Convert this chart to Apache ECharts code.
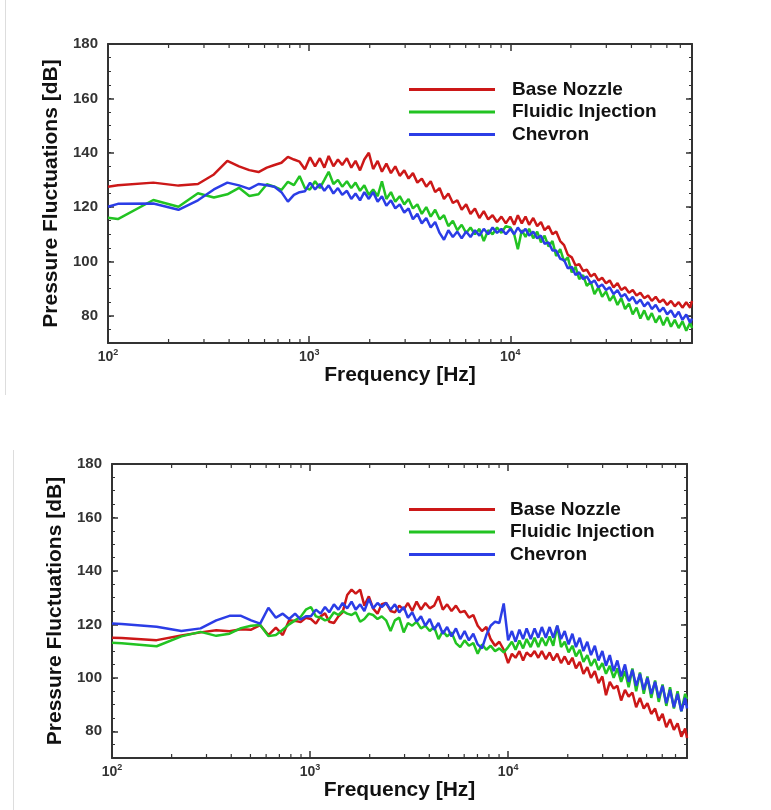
<!DOCTYPE html>
<html><head><meta charset="utf-8">
<script src="https://cdn.jsdelivr.net/npm/echarts@6/dist/echarts.min.js"></script>
<style>html,body{margin:0;padding:0;background:#fff}#c{width:771px;height:810px}</style>
</head><body><div id="c"></div>
<script>
// Frequency bins [Hz] shared by all spectra
const freqs = [100,112,168,224,280,336,392,448,504,560,616,672,728,784,840,896,952,
1010,1070,1130,1190,1250,1320,1390,1460,1540,1620,1700,1790,1880,1980,2080,2190,2300,2420,2550,2680,
2820,2970,3120,3280,3450,3630,3820,4020,4230,4450,4680,4920,5180,5450,5730,6030,6340,6670,7020,7380,
7760,8160,8590,9030,9500,
10000,10450,10900,11400,11900,12400,13000,13600,14200,14800,15500,16200,16900,17700,18500,19300,20200,21100,22000,23000,
24000,25100,26200,27400,28600,29900,31200,32600,34100,35600,37200,38900,40600,42400,44300,46300,48400,50500,52800,55200,
57600,60200,62900,65700,68700,71700,74900,78300,80000];

const seriesNames = ['Base Nozzle', 'Fluidic Injection', 'Chevron'];

// Upper chart [dB]
const topBase = [127.5,128.0,129.0,127.9,128.5,132.0,137.0,135.0,133.6,132.9,134.5,135.5,136.3,138.5,137.5,136.7,133.9,
138.3,135.0,138.0,134.5,138.8,135.0,137.5,135.5,138.0,134.5,
137.0,133.5,137.5,140.0,134.0,137.0,133.0,136.0,132.5,135.0,
131.5,133.5,130.5,132.5,129.0,130.5,127.5,129.5,125.5,127.0,
123.0,125.0,121.5,122.5,119.0,121.0,117.5,119.5,116.0,118.5,
115.5,117.0,114.5,116.5,114.0,
116.5,113.5,117.0,114.0,116.5,113.5,116.0,113.0,114.5,111.5,
113.0,110.0,111.0,107.5,106.0,102.5,101.5,98.5,99.0,96.5,
97.0,94.5,95.5,93.0,94.0,92.0,93.0,90.5,92.0,89.5,
90.5,88.5,89.5,87.5,88.5,86.5,87.5,85.5,87.0,85.0,
86.0,84.0,85.5,83.5,85.0,83.0,85.0,83.0,85.5];
const topFluidic = [116.1,115.6,122.6,120.1,125.1,123.5,124.7,127.1,124.1,124.7,128.4,127.5,126.3,129.3,128.1,131.4,127.0,
126.5,129.5,127.0,130.0,133.0,128.5,130.0,127.5,129.5,127.0,
129.0,126.0,128.0,124.5,126.5,124.0,129.5,123.0,125.5,122.0,
124.0,121.0,123.0,119.5,121.0,117.5,120.0,116.5,119.0,115.5,
117.0,113.0,115.0,111.5,113.5,110.5,112.5,110.0,112.0,107.5,
111.5,110.0,112.5,110.5,113.0,
112.5,110.0,104.5,111.5,109.0,112.0,108.5,111.0,107.0,109.5,
105.5,107.5,102.0,104.5,100.0,101.5,96.0,98.0,93.5,95.0,
91.0,92.5,88.0,90.5,87.0,89.0,85.5,87.5,84.0,86.5,
82.5,84.5,80.5,83.0,79.0,82.0,78.5,81.0,77.5,80.0,
76.5,79.5,76.0,78.5,75.5,78.0,74.5,77.5,75.5];
const topChevron = [120.1,121.2,121.3,119.0,122.5,126.5,129.0,128.0,126.7,128.5,128.0,127.5,125.5,122.0,124.5,125.5,125.8,
129.0,126.5,128.5,126.0,128.0,125.0,127.0,124.5,126.0,123.0,
125.0,122.5,125.5,123.0,125.5,122.0,124.0,120.5,122.5,119.5,
121.0,118.0,119.5,115.5,117.5,114.0,116.0,112.5,114.5,110.5,
108.0,111.5,109.0,111.0,108.5,111.0,109.0,111.5,109.5,112.0,
110.0,112.5,110.5,112.0,110.0,
112.0,110.0,112.5,110.5,112.0,109.5,111.0,108.5,109.5,106.5,
107.0,104.0,104.0,101.0,100.5,97.5,98.0,95.0,96.0,93.5,
94.5,92.0,93.0,90.5,91.5,89.5,90.5,88.0,89.5,87.0,
88.0,85.5,87.0,84.5,86.0,83.5,85.0,82.5,84.0,81.5,
83.0,80.5,82.0,79.5,81.5,78.5,80.5,77.5,79.0];

// Lower chart [dB]
const botBase = [115.0,114.9,114.1,115.8,117.0,117.8,117.4,118.2,118.0,119.7,116.0,118.8,116.0,121.5,121.3,120.9,122.5,
122.0,120.3,123.0,124.1,121.0,120.5,123.0,124.5,131.0,133.0,
131.5,133.0,127.0,130.5,126.0,124.0,127.5,128.0,125.0,124.5,
127.0,125.5,128.0,125.0,128.5,125.5,128.0,126.0,127.0,130.5,
125.5,127.5,125.0,127.0,124.5,125.0,122.5,123.5,119.5,117.5,
119.0,114.5,112.0,113.5,110.5,
105.5,109.0,107.5,110.0,106.5,109.5,108.0,110.0,107.5,110.0,
107.0,109.5,106.5,109.0,105.5,108.0,105.0,107.5,103.5,106.0,
101.5,104.0,100.0,102.5,98.0,100.5,93.5,98.5,96.0,97.0,
91.5,95.5,93.0,94.5,89.0,92.5,88.5,90.5,86.5,88.5,
84.0,86.5,81.5,84.5,80.5,83.0,78.0,81.0,77.5];
const botFluidic = [113.1,112.9,111.8,115.5,117.2,115.7,116.5,118.6,119.5,119.8,115.6,116.0,118.0,120.0,121.5,122.8,125.5,
126.5,123.0,122.5,121.5,122.0,124.5,123.5,125.0,124.0,123.5,
124.5,121.0,122.0,124.0,123.5,122.0,123.0,121.5,117.5,121.5,
122.5,117.0,120.5,119.5,121.0,118.5,119.5,117.5,119.0,114.5,
117.5,115.5,117.0,113.0,111.5,114.0,112.0,113.0,109.0,112.5,
110.5,112.0,110.0,111.0,109.5,
111.5,113.5,110.5,114.0,111.0,114.5,111.5,115.0,111.5,115.0,
112.0,115.5,112.0,119.5,111.5,113.5,109.5,112.0,108.0,110.5,
106.0,108.5,104.5,107.0,103.0,105.5,101.5,104.5,100.0,103.5,
98.5,102.5,96.5,103.5,95.0,102.0,94.0,100.5,92.5,99.0,
91.0,97.5,89.5,96.5,88.5,95.0,87.5,94.0,92.0];
const botChevron = [120.3,120.1,119.1,117.5,118.5,121.5,123.2,123.2,121.5,120.3,126.2,122.5,124.0,122.0,124.0,121.8,123.0,
123.0,125.5,124.0,126.5,124.5,127.5,125.5,128.0,126.0,128.5,
125.5,127.5,125.0,129.5,126.0,128.0,126.5,128.0,125.5,127.5,
124.5,126.5,122.5,124.5,121.0,123.0,119.5,122.0,118.0,120.5,
116.5,119.0,115.5,118.5,114.5,117.5,114.0,116.5,112.5,111.0,
116.0,119.5,121.0,120.5,127.8,
114.0,117.5,113.5,118.0,114.5,118.5,114.5,118.5,115.0,119.0,
115.0,119.0,115.0,119.5,114.5,117.5,112.5,116.5,111.5,115.0,
110.0,113.5,108.5,112.0,106.5,110.0,104.5,108.5,102.5,106.5,
100.5,105.0,98.5,103.0,97.0,101.5,95.5,100.0,94.0,98.5,
92.5,97.0,90.5,95.5,89.0,94.0,87.5,92.5,88.5];

// Minor tick positions of the logarithmic frequency axis
const minorFreqs = [200,300,400,500,600,700,800,900,2000,3000,4000,5000,6000,7000,8000,9000,
20000,30000,40000,50000,60000,70000];

const FONT = '"Liberation Sans", Arial, Helvetica, sans-serif';
const colors = ['#cc1818', '#22c322', '#2b3de6'];
const frameColor = '#333';
const grids = [
  {left: 108, top: 44, width: 584, height: 299},
  {left: 112, top: 464, width: 575, height: 294}
];
const yNameGaps = [43, 41];
const xNameGaps = [17, 17];
const legendTops = [80, 500];
const legendTextPad = [12, 10];
const dataSets = [[topBase, topFluidic, topChevron], [botBase, botFluidic, botChevron]];

const xAxis = [], yAxis = [], series = [], legend = [];
const axisLine = {show: true, onZero: false, lineStyle: {color: frameColor, width: 2}};
const tickStyle = {color: frameColor, width: 1.5};

grids.forEach((g, gi) => {
  const xi = xAxis.length;
  xAxis.push({
    type: 'log', logBase: 10, min: 100, max: 80000, gridIndex: gi, position: 'bottom',
    axisLine: axisLine,
    axisTick: {show: true, inside: true, length: 7, lineStyle: tickStyle},
    splitLine: {show: false},
    axisLabel: {
      margin: 5, showMaxLabel: false,
      formatter: v => {
        const e = Math.round(Math.log10(v));
        if (Math.abs(v - Math.pow(10, e)) > 1e-6 * v) return '';
        return '{b|10}{s|' + e + '}';
      },
      rich: {
        b: {fontFamily: FONT, fontWeight: 'bold', fontSize: 14, color: '#333', lineHeight: 18},
        s: {fontFamily: FONT, fontWeight: 'bold', fontSize: 9, color: '#333', lineHeight: 10, verticalAlign: 'top'}
      }
    },
    name: 'Frequency [Hz]', nameLocation: 'middle', nameGap: xNameGaps[gi],
    nameTextStyle: {fontFamily: FONT, fontWeight: 'bold', fontSize: 21, color: '#111'}
  });
  xAxis.push({
    type: 'log', logBase: 10, min: 100, max: 80000, gridIndex: gi, position: 'top',
    axisLine: axisLine,
    axisTick: {show: true, inside: true, length: 7, lineStyle: tickStyle},
    axisLabel: {show: false}, splitLine: {show: false}
  });
  const yi = yAxis.length;
  yAxis.push({
    type: 'value', min: 70, max: 180, gridIndex: gi, position: 'left',
    axisLine: axisLine,
    axisTick: {show: true, inside: true, length: 6, lineStyle: tickStyle},
    splitLine: {show: false},
    axisLabel: {margin: 10, fontFamily: FONT, fontWeight: 'bold', fontSize: 15, color: '#333',
      formatter: v => (v === 70 ? '' : String(v))},
    name: 'Pressure Fluctuations [dB]', nameLocation: 'middle', nameGap: yNameGaps[gi],
    nameTextStyle: {fontFamily: FONT, fontWeight: 'bold', fontSize: 21, color: '#111'}
  });
  yAxis.push({
    type: 'value', min: 70, max: 180, interval: 5, gridIndex: gi, position: 'left',
    axisLine: {show: false}, axisLabel: {show: false}, splitLine: {show: false},
    axisTick: {show: true, inside: true, length: 3, lineStyle: {color: frameColor, width: 1}}
  });
  yAxis.push({
    type: 'value', min: 70, max: 180, gridIndex: gi, position: 'right',
    axisLine: axisLine, axisLabel: {show: false}, splitLine: {show: false},
    axisTick: {show: true, inside: true, length: 6, lineStyle: tickStyle}
  });
  yAxis.push({
    type: 'value', min: 70, max: 180, interval: 5, gridIndex: gi, position: 'right',
    axisLine: {show: false}, axisLabel: {show: false}, splitLine: {show: false},
    axisTick: {show: true, inside: true, length: 3, lineStyle: {color: frameColor, width: 1}}
  });

  dataSets[gi].forEach((vals, si) => {
    series.push({
      type: 'line', name: seriesNames[si], xAxisIndex: xi, yAxisIndex: yi,
      data: freqs.map((f, k) => [f, vals[k]]),
      symbol: 'none', showSymbol: false, clip: true, z: 2 + si,
      lineStyle: {width: 2.5, color: colors[si]}, itemStyle: {color: colors[si]}
    });
  });

  series.push({
    type: 'custom', xAxisIndex: xi, yAxisIndex: yi, silent: true, z: 10, clip: false,
    data: minorFreqs.map(f => [f]),
    renderItem: (params, api) => {
      const f = api.value(0);
      const b = api.coord([f, 70]);
      const t = api.coord([f, 180]);
      const st = {stroke: frameColor, lineWidth: 1.2};
      return {type: 'group', children: [
        {type: 'line', shape: {x1: b[0], y1: b[1], x2: b[0], y2: b[1] - 4}, style: st},
        {type: 'line', shape: {x1: t[0], y1: t[1], x2: t[0], y2: t[1] + 4}, style: st}
      ]};
    }
  });

  legend.push({
    data: seriesNames, orient: 'vertical', left: 409, top: legendTops[gi], padding: 0,
    itemWidth: 86, itemHeight: 3, itemGap: 3.5, icon: 'rect', selectedMode: false,
    formatter: n => '{t|' + n + '}',
    textStyle: {
      fontFamily: FONT, fontWeight: 'bold', fontSize: 19, color: '#111',
      rich: {t: {fontFamily: FONT, fontWeight: 'bold', fontSize: 19, color: '#111', lineHeight: 20,
        padding: [0, 0, 0, legendTextPad[gi]]}}
    }
  });
});

const chart = echarts.init(document.getElementById('c'), null, {renderer: 'canvas'});
chart.setOption({
  backgroundColor: '#ffffff',
  animation: false,
  color: colors,
  grid: grids.map(g => Object.assign({containLabel: false}, g)),
  xAxis: xAxis, yAxis: yAxis, series: series, legend: legend,
  graphic: [
    {type: 'line', shape: {x1: 5.5, y1: 0, x2: 5.5, y2: 395}, style: {stroke: '#dddddd', lineWidth: 1}, silent: true},
    {type: 'line', shape: {x1: 13.5, y1: 450, x2: 13.5, y2: 810}, style: {stroke: '#dddddd', lineWidth: 1}, silent: true}
  ]
});
</script></body></html>
